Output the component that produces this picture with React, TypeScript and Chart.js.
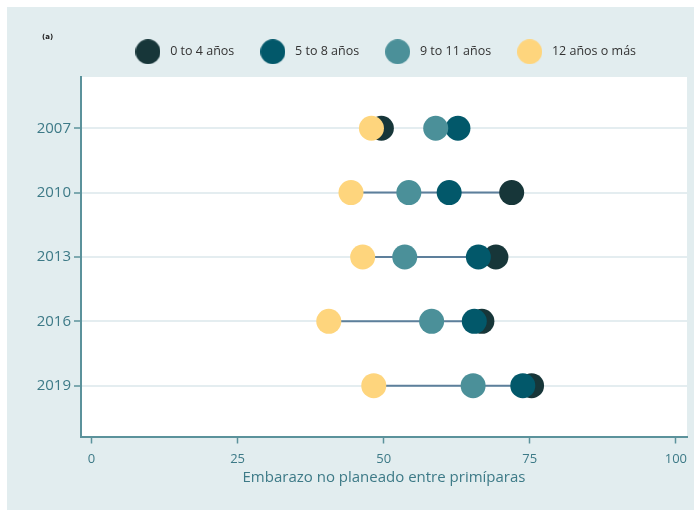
import React, { useEffect, useRef } from "react";
import { Chart, registerables } from "chart.js";

Chart.register(...registerables);

const years = [2007, 2010, 2013, 2016, 2019];
const seriesNames = ["0 to 4 años", "5 to 8 años", "9 to 11 años", "12 años o más"];
const seriesColors = ["#173639", "#02586a", "#4b9099", "#fed57d"];
const edu0to4 = [49.6, 71.9, 69.2, 66.8, 75.3];
const edu5to8 = [62.7, 61.2, 66.2, 65.5, 73.8];
const edu9to11 = [58.9, 54.3, 53.6, 58.2, 65.3];
const edu12plus = [47.9, 44.4, 46.4, 40.6, 48.3];
const rangeLineYears = [2010, 2013, 2016, 2019];
const xTicks = [0, 25, 50, 75, 100];
const xTitle = "Embarazo no planeado entre primíparas";
const panelLabel = "(a)";

const FONT = "'Open Sans', 'DejaVu Sans', sans-serif";
const AXIS = "#5b929b";
const TICKTXT = "#3d7a87";

function circleImage(color: string, d: number): HTMLCanvasElement {
  const c = document.createElement("canvas");
  c.width = d;
  c.height = d;
  const ctx = c.getContext("2d")!;
  ctx.fillStyle = color;
  ctx.beginPath();
  ctx.arc(d / 2, d / 2, d / 2, 0, Math.PI * 2);
  ctx.fill();
  return c;
}

export default function App() {
  const ref = useRef<HTMLCanvasElement | null>(null);

  useEffect(() => {
    if (!ref.current) return;
    const all = [edu0to4, edu5to8, edu9to11, edu12plus];
    const pointSets = all.map((vals, i) => ({
      type: "scatter" as const,
      label: seriesNames[i],
      data: years.map((y, j) => ({ x: vals[j], y })),
      backgroundColor: seriesColors[i],
      borderWidth: 0,
      pointRadius: 12.5,
      pointHoverRadius: 12.5,
      order: 4 - i,
    }));
    const rangeSets = rangeLineYears.map((y) => {
      const j = years.indexOf(y);
      const vals = all.map((a) => a[j]);
      return {
        type: "line" as const,
        label: "range" + y,
        data: [
          { x: Math.min(...vals), y },
          { x: Math.max(...vals), y },
        ],
        borderColor: "#5d7f9b",
        borderWidth: 2,
        pointRadius: 0,
        showLine: true,
        order: 10,
      };
    });
    const images = seriesColors.map((c) => circleImage(c, 25));

    const bgPlugin = {
      id: "plotbg",
      beforeDraw(chart: any) {
        const { ctx, chartArea } = chart;
        ctx.save();
        ctx.fillStyle = "#ffffff";
        ctx.fillRect(chartArea.left, chartArea.top, chartArea.right - chartArea.left, chartArea.bottom - chartArea.top);
        ctx.restore();
      },
    };

    const chart = new Chart(ref.current, {
      type: "scatter",
      data: { datasets: [...pointSets, ...rangeSets] as any },
      plugins: [bgPlugin],
      options: {
        animation: false,
        responsive: true,
        maintainAspectRatio: false,
        layout: { autoPadding: false, padding: { left: 0, right: 7, top: 16, bottom: 0 } },
        plugins: {
          tooltip: { enabled: false },
          title: {
            display: true,
            text: "",
            weight: 500,
            font: { size: 9, lineHeight: 1 },
            padding: 0,
          } as any,
          legend: {
            position: "top",
            fullSize: false,
            labels: {
              usePointStyle: true,
              pointStyleWidth: 32,
              padding: 22.5,
              color: "#333333",
              font: { family: FONT, size: 12.5 },
              filter: (item: any) => item.datasetIndex < 4,
              sort: (a: any, b: any) => a.datasetIndex - b.datasetIndex,
              generateLabels: (chart: any) => {
                const base = Chart.defaults.plugins.legend.labels.generateLabels(chart);
                return base.map((it: any) =>
                  it.datasetIndex < 4 ? { ...it, pointStyle: images[it.datasetIndex] } : it
                );
              },
            },
          },
        },
        scales: {
          x: {
            type: "linear",
            min: -1.8,
            max: 101.9,
            afterBuildTicks: (s: any) => {
              s.ticks = xTicks.map((v) => ({ value: v }));
            },
            afterFit: (s: any) => {
              s.height = 73.5;
              s.paddingLeft = 0;
              s.paddingRight = 0;
            },
            grid: { display: true, drawOnChartArea: false, tickLength: 7, tickColor: AXIS, tickWidth: 1.5 },
            border: { color: AXIS, width: 2 },
            ticks: {
              color: TICKTXT,
              padding: 8,
              font: { family: FONT, size: 13 },
              callback: (v: any) => String(v),
            },
            title: {
              display: true,
              text: xTitle,
              color: TICKTXT,
              font: { family: FONT, size: 15 },
              padding: { top: 0, bottom: 23 },
            },
          },
          y: {
            type: "linear",
            reverse: true,
            min: 2004.61,
            max: 2021.37,
            afterBuildTicks: (s: any) => {
              s.ticks = years.map((v) => ({ value: v }));
            },
            afterFit: (s: any) => {
              s.width = 74;
              s.paddingTop = 0;
              s.paddingBottom = 0;
            },
            grid: { color: "#e4edf0", lineWidth: 2, tickLength: 7, tickColor: AXIS, tickWidth: 1.5 },
            border: { color: AXIS, width: 2 },
            ticks: {
              color: TICKTXT,
              padding: 3,
              font: { family: FONT, size: 15 },
              callback: (v: any) => String(v),
            },
          },
        },
      },
    });
    return () => chart.destroy();
  }, []);

  return (
    <div
      style={{
        position: "fixed",
        left: 7,
        top: 7,
        width: 687,
        height: 503,
        background: "#e2edef",
      }}
    >
      <span
        style={{
          position: "absolute",
          left: 35,
          top: 26,
          fontSize: 7,
          fontWeight: "bold",
          fontFamily: "'DejaVu Sans', sans-serif",
          color: "#222",
        }}
      >
        {panelLabel}
      </span>
      <canvas ref={ref} />
    </div>
  );
}
